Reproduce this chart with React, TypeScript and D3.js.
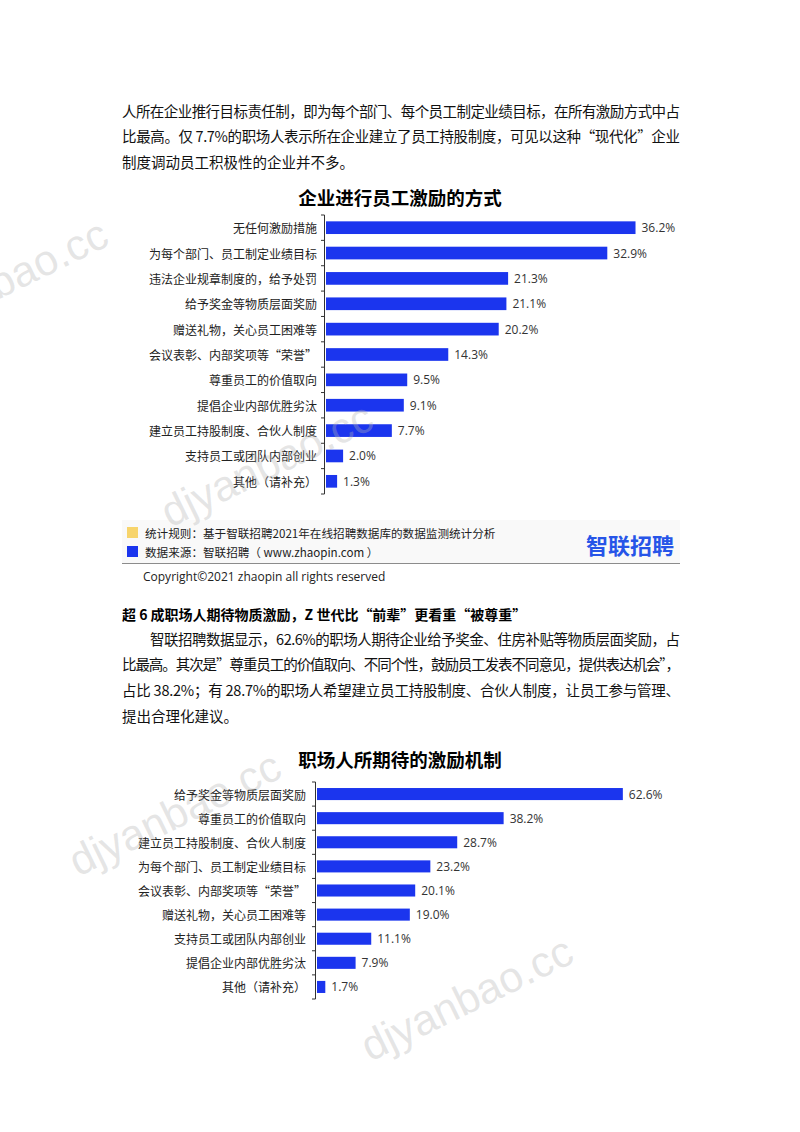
import React from "react";
import * as d3 from "d3";

const chart1Title = "企业进行员工激励的方式";
const chart1Categories = [
  "无任何激励措施",
  "为每个部门、员工制定业绩目标",
  "违法企业规章制度的，给予处罚",
  "给予奖金等物质层面奖励",
  "赠送礼物，关心员工困难等",
  "会议表彰、内部奖项等“荣誉”",
  "尊重员工的价值取向",
  "提倡企业内部优胜劣汰",
  "建立员工持股制度、合伙人制度",
  "支持员工或团队内部创业",
  "其他（请补充）",
];
const chart1Values = [36.2, 32.9, 21.3, 21.1, 20.2, 14.3, 9.5, 9.1, 7.7, 2.0, 1.3];

const chart2Title = "职场人所期待的激励机制";
const chart2Categories = [
  "给予奖金等物质层面奖励",
  "尊重员工的价值取向",
  "建立员工持股制度、合伙人制度",
  "为每个部门、员工制定业绩目标",
  "会议表彰、内部奖项等“荣誉”",
  "赠送礼物，关心员工困难等",
  "支持员工或团队内部创业",
  "提倡企业内部优胜劣汰",
  "其他（请补充）",
];
const chart2Values = [62.6, 38.2, 28.7, 23.2, 20.1, 19.0, 11.1, 7.9, 1.7];

const para1Lines = [
  "人所在企业推行目标责任制，即为每个部门、每个员工制定业绩目标，在所有激励方式中占",
  "比最高。仅 7.7%的职场人表示所在企业建立了员工持股制度，可见以这种“现代化”企业",
  "制度调动员工积极性的企业并不多。",
];
const sectionHeading = "超 6 成职场人期待物质激励，Z 世代比“前辈”更看重“被尊重”";
const para2Lines = [
  "智联招聘数据显示，62.6%的职场人期待企业给予奖金、住房补贴等物质层面奖励，占",
  "比最高。其次是”尊重员工的价值取向、不同个性，鼓励员工发表不同意见，提供表达机会”，",
  "占比 38.2%；有 28.7%的职场人希望建立员工持股制度、合伙人制度，让员工参与管理、",
  "提出合理化建议。",
];
const legendLines = [
  "统计规则：基于智联招聘2021年在线招聘数据库的数据监测统计分析",
  "数据来源：智联招聘（ www.zhaopin.com ）",
];
const logoText = "智联招聘";
const copyrightText = "Copyright©2021 zhaopin all rights reserved";
const watermarkText = "djyanbao.cc";

const FONT = "'Noto Sans CJK SC', 'Noto Sans', sans-serif";
const BLUE = "#1b35ee";

type BarProps = {
  title: string;
  titleY: number;
  cats: string[];
  vals: number[];
  xMax: number;
  x0: number;
  x1: number;
  y0: number;
  y1: number;
  labelGap: number;
};

function BarChart({ title, titleY, cats, vals, xMax, x0, x1, y0, y1, labelGap }: BarProps) {
  const x = d3.scaleLinear().domain([0, xMax]).range([x0, x1]);
  const y = d3.scaleBand<string>().domain(cats).range([y0, y1]).paddingInner(0.5).paddingOuter(0.25);
  const step = y.step();
  const ticks = d3.range(cats.length + 1).map((i) => y0 + i * step);
  return (
    <g>
      <text x={400} y={titleY} textAnchor="middle" dominantBaseline="central" fontFamily={FONT} fontWeight={700} fontSize={18.5} fill="#000">
        {title}
      </text>
      <line x1={x0 - 1.5} x2={x0 - 1.5} y1={y0} y2={y1} stroke="#333" strokeWidth={1} />
      {ticks.map((t, i) => (
        <line key={i} x1={x0 - 5} x2={x0 - 1.5} y1={t} y2={t} stroke="#333" strokeWidth={1} />
      ))}
      {cats.map((c, i) => {
        const yy = y(c)!;
        const bw = y.bandwidth();
        return (
          <g key={c}>
            <rect x={x(0)} y={yy} width={x(vals[i]) - x(0)} height={bw} fill={BLUE} />
            <text x={x0 - labelGap} y={yy + bw / 2} textAnchor="end" dominantBaseline="central" fontFamily={FONT} fontSize={12} fill="#222">
              {c}
            </text>
            <text x={x(vals[i]) + 6} y={yy + bw / 2} dominantBaseline="central" fontFamily="'Open Sans', 'Noto Sans', sans-serif" fontSize={12} fill="#333">
              {vals[i].toFixed(1) + "%"}
            </text>
          </g>
        );
      })}
    </g>
  );
}

function Para({ lines, x0, firstX, x1, y0, lh }: { lines: string[]; x0: number; firstX: number; x1: number; y0: number; lh: number }) {
  return (
    <g>
      {lines.map((l, i) => {
        const sx = i === 0 ? firstX : x0;
        const last = i === lines.length - 1;
        return (
          <text
            key={i}
            x={sx}
            y={y0 + i * lh}
            dominantBaseline="central"
            fontFamily={FONT}
            fontSize={14.5}
            fill="#111"
            {...(last ? {} : { textLength: x1 - sx, lengthAdjust: "spacing" })}
          >
            {l}
          </text>
        );
      })}
    </g>
  );
}

const watermarks = [
  { x: -95, y: 345 },
  { x: 170, y: 528 },
  { x: 78, y: 877 },
  { x: 370, y: 1062 },
];

export default function App() {
  return (
    <svg width={800} height={1132} style={{ position: "absolute", left: 0, top: 0, display: "block", background: "#fff" }}>
      <rect x={0} y={0} width={800} height={1132} fill="#fff" />
      <Para lines={para1Lines} x0={122} firstX={122} x1={680} y0={110} lh={25.7} />

      <BarChart
        title={chart1Title}
        titleY={197}
        cats={chart1Categories}
        vals={chart1Values}
        xMax={40}
        x0={326}
        x1={668}
        y0={215}
        y1={494}
        labelGap={9}
      />

      <rect x={122} y={520} width={558} height={43} fill="#f9f9f9" />
      <rect x={127} y={527} width={11} height={11} fill="#f7d46b" />
      <rect x={127} y={546} width={11} height={11} fill={BLUE} />
      {legendLines.map((t, i) => (
        <text key={i} x={145} y={533 + i * 18.5} dominantBaseline="central" fontFamily={FONT} fontSize={11.6} fill="#222">
          {t}
        </text>
      ))}
      <text x={630} y={544} textAnchor="middle" dominantBaseline="central" fontFamily={FONT} fontWeight={700} fontSize={22} fill="#2755e8">
        {logoText}
      </text>
      <line x1={122} x2={680} y1={563.5} y2={563.5} stroke="#8c8c8c" strokeWidth={1} />
      <text x={143} y={576} dominantBaseline="central" fontFamily="'Open Sans', 'Noto Sans', sans-serif" fontSize={12} fill="#222">
        {copyrightText}
      </text>

      <text x={122} y={614} dominantBaseline="central" fontFamily={FONT} fontWeight={700} fontSize={14} fill="#000">
        {sectionHeading}
      </text>
      <Para lines={para2Lines} x0={122} firstX={150} x1={680} y0={638} lh={25.7} />

      <BarChart
        title={chart2Title}
        titleY={759}
        cats={chart2Categories}
        vals={chart2Values}
        xMax={70}
        x0={317}
        x1={659}
        y0={782}
        y1={999}
        labelGap={11}
      />

      {watermarks.map((w, i) => (
        <text
          key={i}
          x={w.x}
          y={w.y}
          transform={`rotate(-26 ${w.x} ${w.y})`}
          fontFamily="'Liberation Sans', Arial, sans-serif"
          fontSize={43}
          fill="#b4b4b4"
          fillOpacity={0.35}
        >
          {watermarkText}
        </text>
      ))}
    </svg>
  );
}
